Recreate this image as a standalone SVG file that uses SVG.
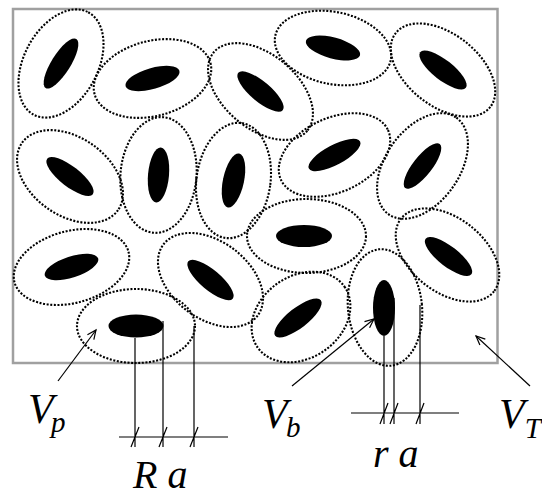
<svg xmlns="http://www.w3.org/2000/svg" width="542" height="492" viewBox="0 0 542 492">
<style>
.o{fill:none;stroke:#000;stroke-width:2.1;stroke-dasharray:2 1.6}
.i{fill:#000}
.ln{fill:none;stroke:#000;stroke-width:1.2}
.lb{font-family:"Liberation Serif","Times New Roman",serif;font-style:italic;fill:#000}
</style>
<defs>
<marker id="ah" markerWidth="12" markerHeight="12" refX="10" refY="5" orient="auto" markerUnits="userSpaceOnUse">
<path d="M1,1 L10,5 L1,9" fill="none" stroke="#000" stroke-width="1.2"/>
</marker>
</defs>
<rect id="box" x="13" y="9" width="484.5" height="354" fill="#fff" stroke="#a0a0a0" stroke-width="2.5"/>
<g id="A" transform="translate(61,63.5)"><ellipse class="o" rx="58" ry="37" transform="rotate(-62)"/><ellipse class="i" rx="29" ry="9.5" transform="rotate(-58)"/></g>
<g id="B" transform="translate(152.5,78.5)"><ellipse class="o" rx="60" ry="37.5" transform="rotate(-15)"/><ellipse class="i" rx="28" ry="10.5" transform="rotate(-16)"/></g>
<g id="C" transform="translate(260.5,91.5)"><ellipse class="o" rx="61" ry="37" transform="rotate(40)"/><ellipse class="i" rx="29" ry="10" transform="rotate(40)"/></g>
<g id="G" transform="translate(333,48)"><ellipse class="o" rx="59" ry="36" transform="rotate(12)"/><ellipse class="i" rx="28" ry="10.5" transform="rotate(15)"/></g>
<g id="H" transform="translate(443,70)"><ellipse class="o" rx="60" ry="36" transform="rotate(38)"/><ellipse class="i" rx="29" ry="10" transform="rotate(38)"/></g>
<g id="D" transform="translate(70,176.5)"><ellipse class="o" rx="58.6" ry="39" transform="rotate(35)"/><ellipse class="i" rx="29" ry="10" transform="rotate(38)"/></g>
<g id="E" transform="translate(158.5,175)"><ellipse class="o" rx="38" ry="58" transform="rotate(5)"/><ellipse class="i" rx="10.5" ry="27.5" transform="rotate(5)"/></g>
<g id="F" transform="translate(233.5,180.5)"><ellipse class="o" rx="37" ry="58" transform="rotate(8)"/><ellipse class="i" rx="10.5" ry="27.5" transform="rotate(12)"/></g>
<g id="I" transform="translate(334.5,155)"><ellipse class="o" rx="59" ry="37" transform="rotate(-25)"/><ellipse class="i" rx="29" ry="10" transform="rotate(-28)"/></g>
<g id="J" transform="translate(422.5,166)"><ellipse class="o" rx="59" ry="37" transform="rotate(-55)"/><ellipse class="i" rx="28" ry="9.5" transform="rotate(-52)"/></g>
<g id="M" transform="translate(71.5,267)"><ellipse class="o" rx="59" ry="36" transform="rotate(-15)"/><ellipse class="i" rx="28" ry="10.5" transform="rotate(-18)"/></g>
<g id="N" transform="translate(210.5,280)"><ellipse class="o" rx="59" ry="38.6" transform="rotate(37)"/><ellipse class="i" rx="29" ry="10" transform="rotate(40)"/></g>
<g id="K" transform="translate(306.5,236)"><ellipse class="o" rx="59.5" ry="37"/><ellipse class="i" rx="28" ry="11" transform="translate(-2.5,0)"/></g>
<g id="L" transform="translate(447.5,255)"><ellipse class="o" rx="59" ry="37" transform="rotate(38)"/><ellipse class="i" rx="29" ry="10" transform="translate(1,1.5) rotate(38)"/></g>
<g id="O" transform="translate(136,326)"><ellipse class="o" rx="59" ry="37"/><ellipse class="i" rx="27.5" ry="11.5"/></g>
<g id="Q" transform="translate(301,317)"><ellipse class="o" rx="53" ry="41" transform="rotate(-35)"/><ellipse class="i" rx="29" ry="10" transform="translate(-3,1) rotate(-38)"/></g>
<g id="P" transform="translate(385,307.5)"><ellipse class="o" rx="37" ry="58.5" transform="rotate(-6)"/><ellipse class="i" rx="11" ry="28" transform="translate(-1,0.5)"/></g>
<g id="connectors">
<line class="ln" x1="58" y1="381" x2="96" y2="330" marker-end="url(#ah)"/>
<line class="ln" x1="292" y1="386" x2="374" y2="319" marker-end="url(#ah)"/>
<line class="ln" x1="530" y1="386" x2="476" y2="336" marker-end="url(#ah)"/>
<path class="ln" d="M135,338V447M163,321V447M194,326V447M119,437H228M131,447L139,427M159,447L167,427M190,447L198,427"/>
<path class="ln" d="M384,336V424M394,298V424M420,305V424M351,413H459M380,424L388,403M390,424L398,403M416,424L424,403"/>
</g>
<g id="labels">
<text class="lb" x="28" y="423" font-size="42">V<tspan dx="-2.7" dy="9" font-size="29">p</tspan></text>
<text class="lb" x="262" y="428" font-size="42">V<tspan dx="-1.7" dy="9" font-size="29">b</tspan></text>
<text class="lb" x="499" y="428" font-size="42">V<tspan dx="0" dy="10" font-size="29">T</tspan></text>
<text class="lb" x="133" y="488" font-size="40">R a</text>
<text class="lb" x="373" y="467" font-size="40">r a</text>
</g>
</svg>
